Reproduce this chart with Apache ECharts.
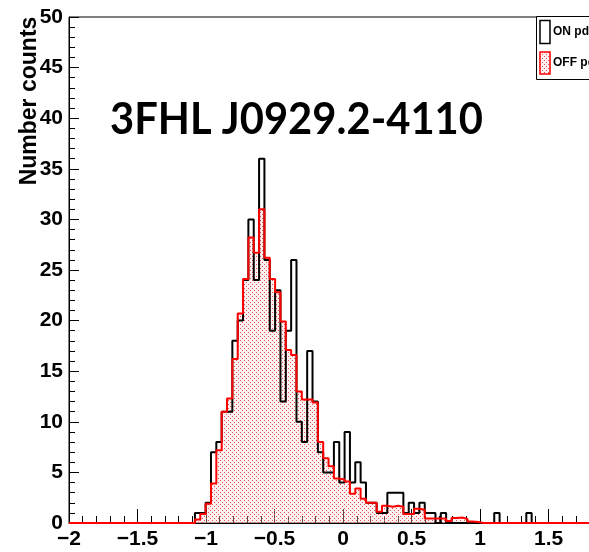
<!DOCTYPE html>
<html><head><meta charset="utf-8">
<script src="https://cdn.jsdelivr.net/npm/echarts@6/dist/echarts.min.js"></script>
<style>html,body{margin:0;padding:0;background:#fff;overflow:hidden;width:589px;height:552px}#c{width:626px;height:552px}</style>
</head><body><div id="c"></div>
<script>
const titleText = '3FHL J0929.2-4110';
const yTitle = 'Number counts';
const legendNames = ['ON pdf', 'OFF pdf'];
const xRange = [-2, 2];
const yRange = [0, 50];
const xTickStep = 0.5;
const yTickStep = 5;
const binStart = -1.9;
const binWidth = 0.039;
const onCounts = [
  0,0,0,0,0,0,0,0,0,0,0,0,0,0,0,0,0,0,0,0,0,
  1,1,2,7,8,11,11,18,20,24,30,24,36,26,19,23,12,19,26,
  10,8,17,12,7,5,5,8,4,9,4,6,4,2,2,1,1,3,3,3,1,2,1,
  2,1,1,0,1,0,0,
  0,0,0,0,0,0,0,
  1,
  0,0,0,0,0,
  1,
  0,0,0,0,0,0,0,0,0,0,0,0,0,0,0,0
];
const offCounts = [
  0,0,0,0,0,0,0,0,0,0,0,0,0,0,0,0,0,0,0,0,0,
  0.35,0.9,1.9,3.9,7.2,11.0,12.3,16.2,20.7,24.1,28.2,26.7,31.0,26.2,24.1,22.8,19.9,17.1,16.6,
  13.0,12.2,12.2,11.9,8.0,6.4,5.6,4.4,4.3,4.1,2.9,3.4,2.4,2.0,2.0,1.1,1.7,1.6,1.7,1.6,0.9,0.9,1.4,
  1.3,0.45,0.45,0.45,0.45,0.2,0.5,
  0.55,0.4,0.15,0.1,0,0,0,
  0,
  0,0,0,0,0,
  0,
  0,0,0,0,0,0,0,0,0,0,0,0,0,0,0,0
];

function histPoints(vals) {
  const pts = [[xRange[0], 0]];
  vals.forEach((v, k) => pts.push([binStart + k * binWidth, v]));
  pts.push([binStart + vals.length * binWidth, 0]);
  return pts;
}

// dotted pink pattern
const pc = document.createElement('canvas');
pc.width = 4; pc.height = 4;
const pctx = pc.getContext('2d');
pctx.fillStyle = 'rgba(255,215,215,0.35)';
pctx.fillRect(0, 0, 4, 4);
pctx.fillStyle = 'rgb(232,80,80)';
pctx.fillRect(0, 0, 1, 1);
pctx.fillRect(2, 2, 1, 1);
const dotPattern = { image: pc, repeat: 'repeat' };

// title width fit
const mc = document.createElement('canvas').getContext('2d');
const titleFont = 'bold 44px Lato';
mc.font = titleFont;
const titleScale = 373 / mc.measureText(titleText).width;

const fmt = v => String(v).replace('-', '\u2212');
const lblFont = { color: '#000', fontFamily: 'Liberation Sans', fontWeight: 'bold', fontSize: 21 };

const chart = echarts.init(document.getElementById('c'), null, { renderer: 'canvas' });
chart.setOption({
  animation: false,
  backgroundColor: '#fff',
  grid: { left: 69, right: 0, top: 17, bottom: 29, show: true, borderColor: '#000', borderWidth: 1, backgroundColor: 'transparent' },
  xAxis: {
    type: 'value', min: xRange[0], max: xRange[1], interval: xTickStep,
    axisLine: { show: true, onZero: false, lineStyle: { color: '#000', width: 1 } },
    axisTick: { show: true, inside: true, length: 14, lineStyle: { color: '#000', width: 1 } },
    minorTick: { show: true, splitNumber: 5, length: 7, lineStyle: { color: '#000', width: 1 } },
    splitLine: { show: false }, minorSplitLine: { show: false },
    axisLabel: Object.assign({ margin: 6, formatter: fmt, showMinLabel: true, showMaxLabel: true }, lblFont)
  },
  yAxis: {
    type: 'value', min: yRange[0], max: yRange[1], interval: yTickStep,
    axisLine: { show: true, onZero: false, lineStyle: { color: '#000', width: 1 } },
    axisTick: { show: true, inside: true, length: 10, lineStyle: { color: '#000', width: 1 } },
    minorTick: { show: true, splitNumber: 5, length: 6, lineStyle: { color: '#000', width: 1 } },
    splitLine: { show: false }, minorSplitLine: { show: false },
    axisLabel: Object.assign({ margin: 6, showMinLabel: true, showMaxLabel: true }, lblFont)
  },
  series: [
    { name: legendNames[1] + ' fill', type: 'line', step: 'end', data: histPoints(offCounts), showSymbol: false, silent: true,
      lineStyle: { width: 0 }, areaStyle: { color: dotPattern, opacity: 1 }, z: 1 },
    { name: legendNames[0], type: 'line', step: 'end', data: histPoints(onCounts), showSymbol: false, silent: true,
      lineStyle: { color: '#000', width: 2 }, z: 2 },
    { name: legendNames[1], type: 'line', step: 'end', data: histPoints(offCounts), showSymbol: false, silent: true,
      lineStyle: { color: '#ff0000', width: 2 }, z: 3 }
  ],
  graphic: [
    { type: 'text', x: 110, y: 120, scaleX: titleScale, z: 50,
      style: { text: titleText, font: titleFont, fill: '#000', textAlign: 'left', textVerticalAlign: 'middle' } },
    { type: 'text', x: 30, y: 101, rotation: Math.PI / 2, z: 50,
      style: { text: yTitle, font: 'bold 23px "Liberation Sans"', fill: '#000', textAlign: 'center', textVerticalAlign: 'middle' } },
    { type: 'rect', shape: { x: 536.5, y: 16.5, width: 80, height: 63 }, z: 60,
      style: { fill: '#fff', stroke: '#000', lineWidth: 1 } },
    { type: 'rect', shape: { x: 540, y: 20.5, width: 10, height: 23 }, z: 61,
      style: { fill: '#fff', stroke: '#000', lineWidth: 1.5 } },
    { type: 'rect', shape: { x: 540, y: 52, width: 10, height: 22 }, z: 61,
      style: { fill: dotPattern, stroke: '#ff0000', lineWidth: 1.5 } },
    { type: 'text', x: 553, y: 32, z: 62,
      style: { text: legendNames[0], font: 'bold 12px "Liberation Sans"', fill: '#000', textAlign: 'left', textVerticalAlign: 'middle' } },
    { type: 'text', x: 553, y: 63, z: 62,
      style: { text: legendNames[1], font: 'bold 12px "Liberation Sans"', fill: '#000', textAlign: 'left', textVerticalAlign: 'middle' } }
  ]
});
</script>
</body></html>
